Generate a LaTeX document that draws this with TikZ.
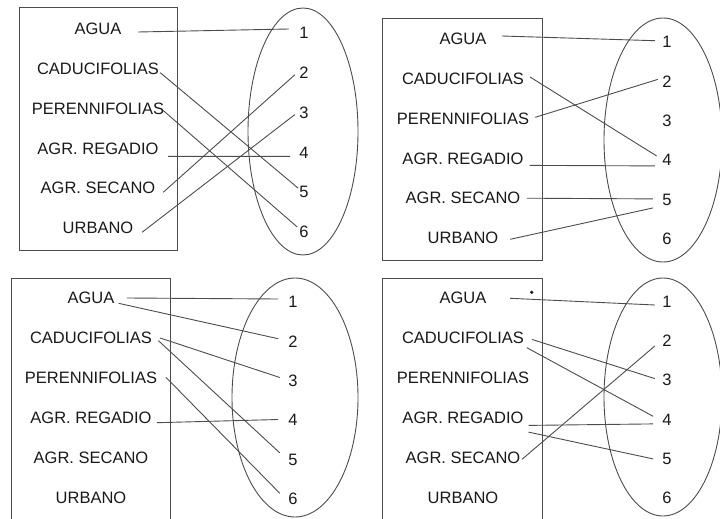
\documentclass[tikz,border=0pt]{standalone}
\usepackage{fontspec}
\setmainfont{Liberation Sans}
\tikzset{
  term/.style={font=\fontsize{16.5}{18}\selectfont,text=black!90,inner sep=1pt},
  link/.style={line width=.9pt,draw=black!70},
}
\begin{document}
\begin{tikzpicture}[x=1pt,y=-1pt]
\useasboundingbox (0,0) rectangle (720,519);
\clip (0,0) rectangle (720,519);
% boxes and sets
\draw[link] (19,7.3) rectangle (177,250);
\draw[link] (382.7,18.3) rectangle (542.7,260.7);
\draw[link] (11.7,278.3) rectangle (170,540);
\draw[link] (382.7,278.3) rectangle (542.7,540);
\draw[link] (303,131.5) ellipse [x radius=55pt, y radius=123.5pt];
\draw[link] (663,140) ellipse [x radius=59pt, y radius=122pt];
\draw[link] (295,397.5) ellipse [x radius=63pt, y radius=119.5pt];
\draw[link] (663,397) ellipse [x radius=59pt, y radius=119pt];
\fill[black!90] (531.7,292.3) circle [radius=1.8pt];
% terms and numbers
\foreach \p/\lx/\ly/\ls/\nx/\ny/\ns in {1/98/28.7/39.9/304/33/39.8, 2/463/39/39.8/667/42/39.4, 3/91/298/40/293/302/39.4, 4/463/297.7/40/667/301.7/39.3}{
  \foreach \t [count=\k] in {AGUA,CADUCIFOLIAS,PERENNIFOLIAS,AGR. REGADIO,AGR. SECANO,URBANO}{
    \node[term] (L\p\k) at (\lx,\ly+\ls*\k-\ls) {\t};
    \node[term] (N\p\k) at (\nx,\ny+\ns*\k-\ns) {\k};
  }
}
% first set
\draw[link] ([shift={(15.6,3.3)}]L11.east) -- ([shift={(-9.4,-4)}]N11.west);
\draw[link] ([shift={(0,4)}]L12.east) -- ([shift={(0,-4)}]N15.west);
\draw[link] ([shift={(-2,2)}]L13.east) -- ([shift={(-1,-5)}]N16.west);
\draw[link] ([shift={(8.5,8)}]L14.east) -- ([shift={(-8,4)}]N14.west);
\draw[link] ([shift={(6.7,4)}]L15.east) -- ([shift={(-3.4,2)}]N12.west);
\draw[link] ([shift={(7.7,4)}]L16.east) -- ([shift={(-3.4,2)}]N13.west);
% second set
\draw[link] ([shift={(14.3,-3)}]L21.east) -- ([shift={(-6.4,-1.3)}]N21.west);
\draw[link] ([shift={(5,-1.7)}]L22.east) -- ([shift={(-4.7,-4.3)}]N24.west);
\draw[link] ([shift={(5,-1.3)}]L23.east) -- ([shift={(-3.4,-2)}]N22.west);
\draw[link] ([shift={(4.8,7)}]L24.east) -- ([shift={(-6.4,5.7)}]N24.west);
\draw[link] ([shift={(5.4,0)}]L25.east) -- ([shift={(-8.4,-0.7)}]N25.west);
\draw[link] ([shift={(10.7,1.3)}]L26.east) -- ([shift={(-8.1,8.3)}]N25.west);
% third set
\draw[link] ([shift={(11.3,0)}]L31.east) -- ([shift={(-9,-3)}]N31.west);
\draw[link] ([shift={(3,5.3)}]L31.east) -- ([shift={(-9,-2.7)}]N32.west);
\draw[link] ([shift={(7,0)}]L32.east) -- ([shift={(-7.4,-3.3)}]N33.west);
\draw[link] ([shift={(5.3,2.7)}]L32.east) -- ([shift={(-7.4,-6.7)}]N35.west);
\draw[link] ([shift={(7.7,-0.7)}]L33.east) -- ([shift={(-7.4,-5.7)}]N36.west);
\draw[link] ([shift={(4.2,4.7)}]L34.east) -- ([shift={(-9,-0.7)}]N34.west);
% fourth set
\draw[link] ([shift={(22.6,0.6)}]L41.east) -- ([shift={(-6.4,3.3)}]N41.west);
\draw[link] ([shift={(6.7,1.7)}]L42.east) -- ([shift={(-6.4,-1.7)}]N43.west);
\draw[link] ([shift={(1.7,10)}]L42.east) -- ([shift={(-8.1,-3.3)}]N44.west);
\draw[link] ([shift={(0.4,1.7)}]L45.east) -- ([shift={(-6.4,5)}]N42.west);
\draw[link] ([shift={(3.8,7.7)}]L44.east) -- ([shift={(-8.1,4.3)}]N44.west);
\draw[link] ([shift={(3.8,14.4)}]L44.east) -- ([shift={(-8.1,0)}]N45.west);
\end{tikzpicture}
\end{document}
